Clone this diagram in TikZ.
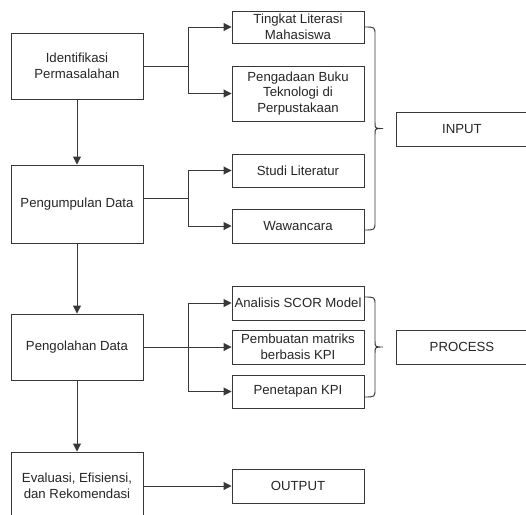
\documentclass[tikz,border=0pt]{standalone}
\usepackage{fontspec}
\setmainfont{Liberation Sans}
\usetikzlibrary{positioning,arrows.meta,calc}

\begin{document}
\begin{tikzpicture}[
  x=1pt, y=-1pt,
  font=\fontsize{13.2}{15.5}\selectfont,
  >={Triangle[length=8pt,width=8pt]},
  line width=0.95pt, color=black!78,
  stage/.style={draw, minimum width=132pt, align=center, inner sep=2pt, text=black!85},
  item/.style={draw, minimum width=132pt, align=center, inner sep=0.5pt, text=black!85},
  flow/.style={->},
]
\useasboundingbox (0,0) rectangle (526,514);
\clip (0,0) rectangle (526,514);
\fill[white] (0,0) rectangle (526,514);

% ---- main stages (left column) ----
\node[stage, minimum height=66pt] (ident) at (77,66) {Identifikasi\\Permasalahan};
\node[stage, minimum height=78pt] (kumpul) at (77,204) {Pengumpulan Data};
\node[stage, minimum height=66pt] (olah) at (77,347) {Pengolahan Data};
\node[stage, minimum height=68pt] (eval) at (77,486) {Evaluasi, Efisiensi,\\dan Rekomendasi};

\draw[flow] (ident) -- (kumpul);
\draw[flow] (kumpul) -- (olah);
\draw[flow] (olah) -- (eval);

% ---- sub items (right column) ----
\node[item, minimum height=32pt] (tingkat) at (298,27) {Tingkat Literasi\\Mahasiswa};
\node[item, minimum height=55pt] (adaan) at (298,93.5) {Pengadaan Buku\\Teknologi di\\Perpustakaan};
\node[item, minimum height=33pt] (studi) at (298,170.5) {Studi Literatur};
\node[item, minimum height=34pt] (wawan) at (298,226) {Wawancara};
\node[item, minimum height=34pt] (scor) at (298,303) {Analisis SCOR Model};
\node[item, minimum height=34pt] (matriks) at (298,347) {Pembuatan matriks\\berbasis KPI};
\node[item, minimum height=33pt] (tetap) at (298,391.5) {Penetapan KPI};
\node[item, minimum height=34pt] (output) at (298,486) {OUTPUT};

% branches
\draw (ident.east) -- ++(45,0) coordinate (jA);
\draw[flow] (jA) |- (tingkat.west);
\draw[flow] (jA) |- (adaan.west);
\draw (ident.east |- kumpul) ++(0,-6) -- ++(45,0) coordinate (jB);
\draw[flow] (jB) |- (studi.west);
\draw[flow] (jB) |- (wawan.west);
\draw[flow] (olah.east) -- (matriks.west);
\coordinate (jC) at ($(olah.east)+(45,0)$);
\draw[flow] (jC) |- (scor.west);
\draw[flow] (jC) |- (tetap.west);
\draw[flow] (eval.east |- output) -- (output.west);

% ---- category boxes ----
\node[item, minimum height=34pt] (input) at (462,129) {INPUT};
\node[item, minimum height=34pt] (process) at (462,347) {PROCESS};

% ---- braces ----
\foreach \ya/\yb in {27/230, 297/397}{
  \pgfmathsetmacro\ym{(\ya+\yb)/2}
  \draw (364,\ya) .. controls (375,\ya) .. (375,\ya+8) -- (375,\ym-6)
        .. controls (375,\ym) .. (383,\ym) .. controls (375,\ym) .. (375,\ym+6)
        -- (375,\yb-8) .. controls (375,\yb) .. (364,\yb);
}
\end{tikzpicture}
\end{document}
